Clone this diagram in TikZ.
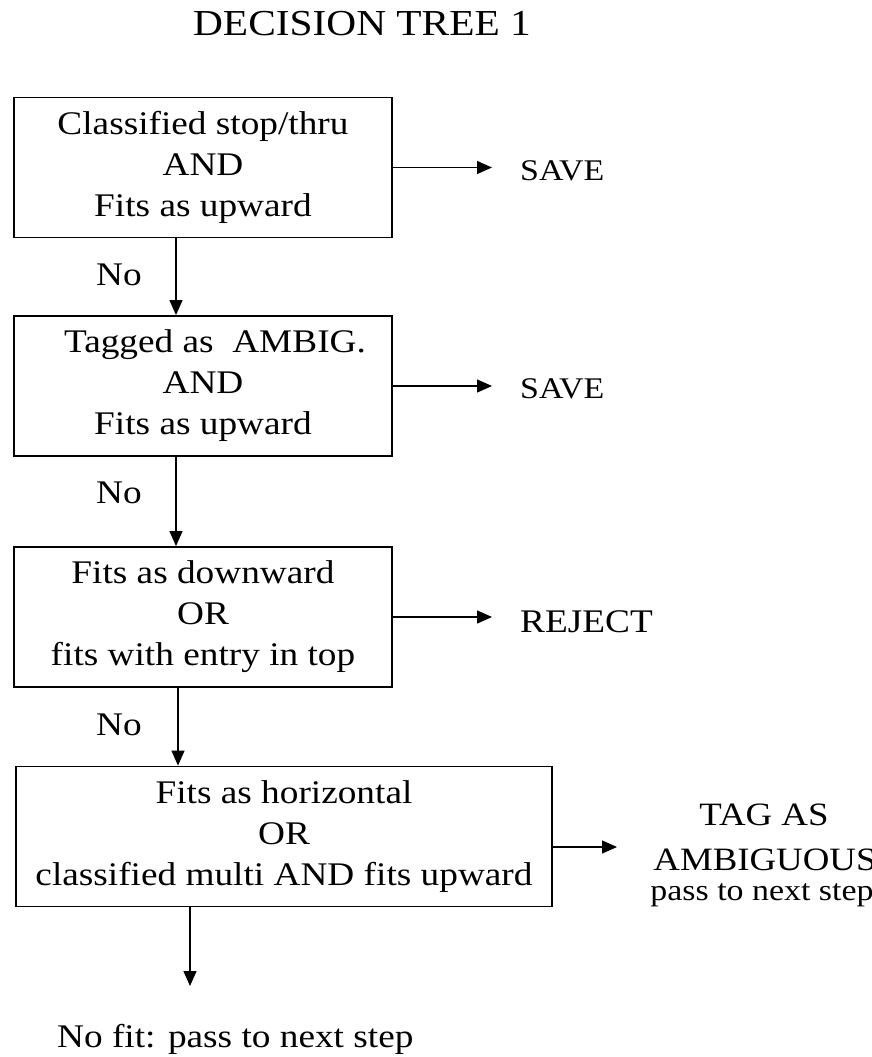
\documentclass[tikz,border=0pt]{standalone}
\usepackage{fontspec}
\setmainfont{Liberation Serif}[FakeStretch=1.13]
\usetikzlibrary{arrows.meta}
\begin{document}
\begin{tikzpicture}[x=1pt,y=-1pt,
  box/.style={draw, line width=1.8pt, minimum width=#1, minimum height=140pt,
    inner sep=0pt, align=center, font=\fontsize{33}{41}\selectfont},
  arr/.style={line width=1.3pt, -{Triangle[length=15pt,width=13pt]}},
  lbl/.style={inner sep=0pt, font=\fontsize{33}{41}\selectfont},
  side/.style={inner sep=0pt, align=center, font=\fontsize{32.6}{45}\selectfont},
  ttl/.style={inner sep=0pt, font=\fontsize{36.6}{45}\selectfont}]
\clip (0,0) rectangle (871,1057);
\fill[white] (0,0) rectangle (871,1057);

% title
\node[ttl, anchor=base] (title) at (362,36) {DECISION TREE 1};

% decision boxes
\node[box=378pt] (b1) at (203,167.5) {Classified stop/thru\\AND\\Fits as upward};
\node[box=378pt] (b2) at (203,386) {\hspace*{24pt}Tagged as~~AMBIG.\\AND\\Fits as upward};
\node[box=378pt] (b3) at (203,617) {Fits as downward\\OR\\fits with entry in top};
\node[box=536pt] (b4) at (284,836.5) {Fits as horizontal\\OR\\classified multi AND fits upward};

% outcomes on the right
\node[lbl, anchor=base west, font=\fontsize{30}{41}\selectfont] (s1) at (520,180) {SAVE};
\node[lbl, anchor=base west, font=\fontsize{30}{41}\selectfont] (s2) at (520,398) {SAVE};
\node[lbl, anchor=base west] (s3) at (520,632) {REJECT};
\node[side, anchor=base] (tag) at (764,825) {TAG AS};
\node[side, anchor=base] (amb) at (765,870) {AMBIGUOUS};
\node[inner sep=0pt, font=\fontsize{30}{38}\selectfont, anchor=base] (pass) at (762,900) {pass to next step};
\coordinate (t4) at (617,847);

% final outcome
\coordinate (end) at (190,986);
\node[lbl, anchor=base west] (nofit) at (57,1047) {No fit: pass to next step};

% "No" labels
\node[lbl, anchor=base east] (n1) at (142,285) {No};
\node[lbl, anchor=base east] (n2) at (142,503) {No};
\node[lbl, anchor=base east] (n3) at (142,735) {No};

% connectors
\draw[arr] ([xshift=-27pt]b1.south) -- ([xshift=-27pt]b2.north);
\draw[arr] ([xshift=-27pt]b2.south) -- ([xshift=-27pt]b3.north);
\draw[arr] ([xshift=-25pt]b3.south) -- ([xshift=-25pt]b3.south |- b4.north);
\draw[arr] ([xshift=-94pt]b4.south) -- (end);

\draw[arr, shorten >=28pt] (b1.east) -- (b1.east -| s1.west);
\draw[arr, shorten >=28pt] (b2.east) -- (b2.east -| s2.west);
\draw[arr, shorten >=28pt] (b3.east) -- (b3.east -| s3.west);
\draw[arr] ([yshift=-10.5pt]b4.east) -- (t4);
\end{tikzpicture}
\end{document}
